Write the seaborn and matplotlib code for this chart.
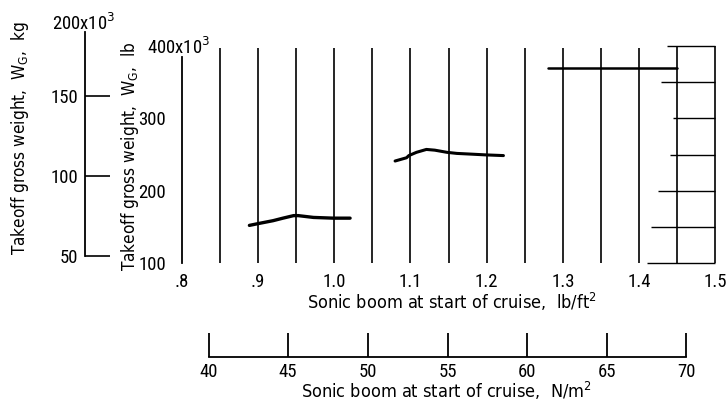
import numpy as np
import pandas as pd
import matplotlib
matplotlib.use("Agg")
import matplotlib.pyplot as plt
from matplotlib import font_manager
import seaborn as sns

# Takeoff gross weight (10^3 lb) against sonic boom at start of cruise (lb/ft^2)
boom_a = [0.889, 0.903, 0.920, 0.933, 0.947, 0.953, 0.973, 0.999, 1.021]
weight_a = [152, 155, 158.5, 162, 165.5, 165.5, 163, 162, 162]

boom_b = [1.080, 1.095, 1.098, 1.108, 1.121, 1.132, 1.148, 1.161, 1.180, 1.198, 1.222]
weight_b = [241, 245.5, 248.5, 253, 257, 256, 253, 251.5, 250.5, 249.5, 248.5]

boom_c = [1.28, 1.45]
weight_c = [370, 370]

# Axis scales
boom_ticks = [0.8, 0.9, 1.0, 1.1, 1.2, 1.3, 1.4, 1.5]
boom_tick_labels = [".8", ".9", "1.0", "1.1", "1.2", "1.3", "1.4", "1.5"]
lb_ticks = [100, 200, 300]
kg_ticks = [50, 100, 150]
pa_ticks = [40, 45, 50, 55, 60, 65, 70]

LB_TO_KG = 0.45359237
PSF_TO_PA = 47.880259

sns.set_style("white")


def pick_font(candidates):
    for name in candidates:
        try:
            font_manager.findfont(font_manager.FontProperties(family=name),
                                  fallback_to_default=False)
            return name
        except ValueError:
            continue
    return "DejaVu Sans"


NUM_FONT = pick_font(["Roboto Condensed", "DejaVu Sans"])
plt.rcParams["font.family"] = [NUM_FONT, "DejaVu Sans"]
plt.rcParams["mathtext.fontset"] = "custom"
plt.rcParams["mathtext.rm"] = "DejaVu Sans:stretch=condensed"
plt.rcParams["mathtext.it"] = "DejaVu Sans:stretch=condensed"
plt.rcParams["mathtext.bf"] = "DejaVu Sans:stretch=condensed"
plt.rcParams["text.color"] = "black"
plt.rcParams["xtick.color"] = "black"
plt.rcParams["ytick.color"] = "black"
FS_NUM = 13.5
TITLE = dict(fontfamily="DejaVu Sans", fontstretch="condensed")

W, H = 727, 408
fig = plt.figure(figsize=(W / 100, H / 100), dpi=100)


def box(left, top, right, bottom):
    return [left / W, 1 - bottom / H, (right - left) / W, (bottom - top) / H]


X0, X1 = 181.5, 715.5      # pixel span of 0.8 .. 1.5 lb/ft^2
Y_LO, Y_HI = 263.0, 46.0   # pixel rows of 100 and 400 x10^3 lb
px_per_lb = (Y_LO - Y_HI) / 300.0

# ---- main chart (lb) ----
ax = fig.add_axes(box(X0, Y_HI, X1, Y_LO))
ax.set_xlim(0.8, 1.5)
ax.set_ylim(100, 400)
ax.set_facecolor("none")

# vertical rulings every 0.05 lb/ft^2
for xv in np.arange(0.85, 1.4499, 0.05):
    ax.vlines(xv, 100, 397, color="black", lw=1.2, clip_on=False)
for xv in (1.45, 1.5):
    ax.vlines(xv, 100, 400, color="black", lw=1.2, clip_on=False)
# short horizontal rulings on the right-hand strip
stub_start = {100: 1.410, 150: 1.416, 200: 1.425, 250: 1.440,
              300: 1.444, 350: 1.429, 400: 1.436}
for yv, xs in stub_start.items():
    ax.hlines(yv, xs, 1.5, color="black", lw=1.0, clip_on=False)

for bx, wy, lw in ((boom_a, weight_a, 2.4), (boom_b, weight_b, 2.2),
                   (boom_c, weight_c, 1.8)):
    df = pd.DataFrame({"boom": bx, "weight": wy})
    sns.lineplot(data=df, x="boom", y="weight", ax=ax, color="black",
                 lw=lw, estimator=None, sort=False, legend=False)

ax.set_xlabel("")
ax.set_ylabel("")
for s in ("top", "right", "bottom"):
    ax.spines[s].set_visible(False)
ax.spines["left"].set_color("black")
ax.spines["left"].set_linewidth(1.3)
ax.spines["left"].set_bounds(100, 385)
ax.set_xticks(boom_ticks)
ax.set_xticklabels(boom_tick_labels)
ax.set_yticks(lb_ticks)
ax.set_yticklabels([str(v) for v in lb_ticks])
ax.tick_params(axis="x", bottom=True, length=0, pad=7, labelsize=FS_NUM, colors="black")
ax.tick_params(axis="y", left=True, length=0, pad=11, labelsize=FS_NUM, colors="black")
ax.annotate("400x10$^3$", xy=(0, 400), xycoords=("axes fraction", "data"),
            xytext=(-(X0 - 147) * 0.72, -1), textcoords="offset points",
            ha="left", va="center", fontsize=FS_NUM)

# ---- kg scale ----
kax = fig.add_axes(box(85, 10, 120, Y_LO))
lb_top = 100 + (Y_LO - 10) / px_per_lb
kax.set_ylim(100 * LB_TO_KG, lb_top * LB_TO_KG)
kax.set_xlim(0, 1)
kax.set_facecolor("none")
for s in ("top", "right", "bottom"):
    kax.spines[s].set_visible(False)
kax.spines["left"].set_color("black")
kax.spines["left"].set_linewidth(1.3)
kax.spines["left"].set_bounds(50, 190)
kax.set_xticks([])
kax.set_yticks(kg_ticks)
kax.set_yticklabels([str(v) for v in kg_ticks])
kax.tick_params(axis="y", left=True, direction="in", length=18, width=1.2,
                pad=5, labelsize=FS_NUM, colors="black")
kax.annotate("200x10$^3$", xy=(0, 200), xycoords=("axes fraction", "data"),
             xytext=(-(85 - 52) * 0.72, -7 * 0.72), textcoords="offset points",
             ha="left", va="center", fontsize=FS_NUM)

# ---- N/m^2 scale ----
pax = fig.add_axes(box(X0, 320, X1, 357))
pax.set_xlim(0.8 * PSF_TO_PA, 1.5 * PSF_TO_PA)
pax.set_ylim(0, 1)
pax.set_facecolor("none")
for s in ("top", "right", "left"):
    pax.spines[s].set_visible(False)
pax.spines["bottom"].set_color("black")
pax.spines["bottom"].set_linewidth(1.3)
pax.spines["bottom"].set_bounds(40, 70)
pax.set_yticks([])
pax.set_xticks(pa_ticks)
pax.set_xticklabels([str(v) for v in pa_ticks])
pax.tick_params(axis="x", bottom=True, direction="in", length=17, width=1.3,
                pad=4, labelsize=FS_NUM, colors="black")

# ---- axis titles ----
fig.text(452 / W, 1 - 302 / H, "Sonic boom at start of cruise,  lb/ft$^2$",
         ha="center", va="center", fontsize=13, **TITLE)
fig.text(446 / W, 1 - 391 / H, "Sonic boom at start of cruise,  N/m$^2$",
         ha="center", va="center", fontsize=13, **TITLE)
fig.text(130 / W, 1 - 156 / H, "Takeoff gross weight,  W$_\\mathrm{G}$,  lb",
         ha="center", va="center", rotation=90, fontsize=12.3, **TITLE)
fig.text(20 / W, 1 - 138 / H, "Takeoff gross weight,  W$_\\mathrm{G}$,  kg",
         ha="center", va="center", rotation=90, fontsize=12.3, **TITLE)

fig.savefig("out.png", dpi=100, facecolor="white")
